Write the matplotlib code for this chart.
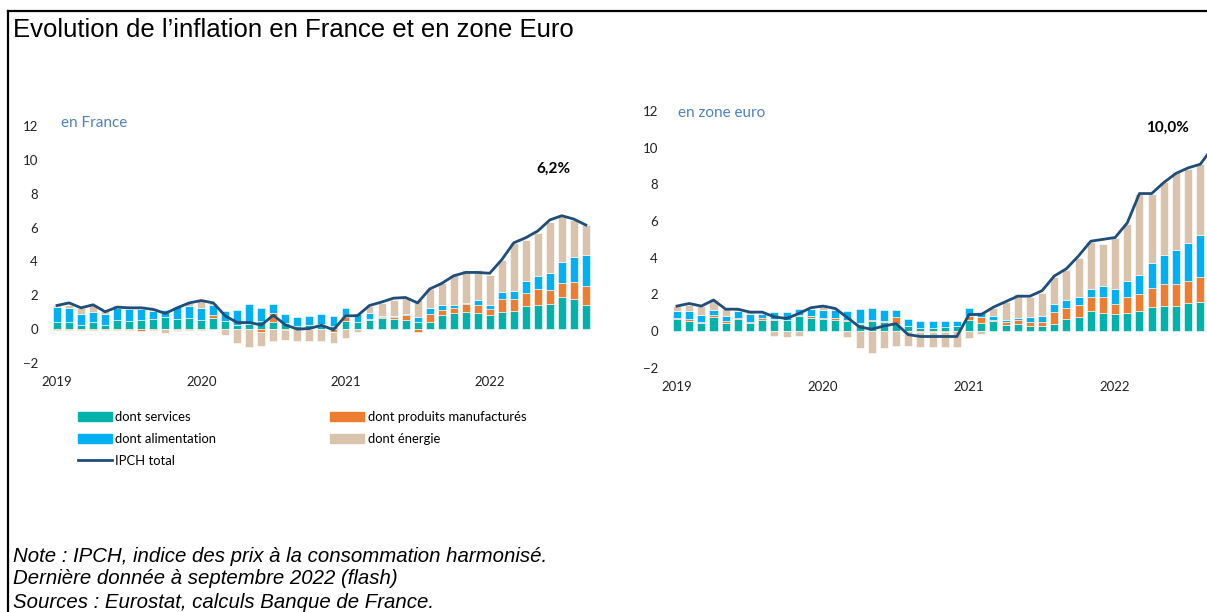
import matplotlib
matplotlib.use("Agg")
import matplotlib.pyplot as plt
from matplotlib.lines import Line2D
from matplotlib.patches import Patch
import numpy as np

# monthly data, Jan 2019 -> Sep 2022 (contributions, pts)
years = ["2019", "2020", "2021", "2022"]

fr_services = [0.45, 0.45, 0.25, 0.43, 0.25, 0.55, 0.5, 0.55, 0.6, 0.7, 0.62, 0.66,
               0.55, 0.65, 0.5, 0.25, 0.33, 0.5, 0.43, 0.35, 0.2, 0.23, 0.33, 0.2,
               0.5, 0.45, 0.55, 0.68, 0.62, 0.55, 0.43, 0.43, 0.85, 0.97, 1.0, 0.97,
               0.85, 1.0, 1.1, 1.36, 1.44, 1.5, 1.9, 1.79, 1.44]
fr_manuf = [-0.05, -0.05, -0.05, -0.05, -0.05, -0.05, -0.05, -0.12, -0.05, -0.02, -0.03, -0.05,
            -0.05, 0.2, 0.0, 0.0, 0.0, -0.15, 0.5, -0.05, 0.0, 0.0, 0.0, -0.15,
            0.2, 0.0, 0.05, 0.05, 0.1, 0.3, -0.15, 0.45, 0.3, 0.27, 0.5, 0.45,
            0.35, 0.78, 0.68, 0.78, 0.93, 0.8, 0.85, 0.97, 1.09]
fr_food = [0.85, 0.8, 0.65, 0.6, 0.62, 0.7, 0.7, 0.65, 0.45, 0.42, 0.68, 0.7,
           0.7, 0.55, 0.6, 0.9, 1.15, 0.75, 0.55, 0.52, 0.52, 0.55, 0.57, 0.58,
           0.55, 0.45, 0.35, 0.05, 0.05, 0.05, 0.3, 0.35, 0.27, 0.2, 0.05, 0.3,
           0.22, 0.4, 0.5, 0.72, 0.74, 1.0, 1.22, 1.48, 1.83]
fr_energy = [0.15, 0.2, 0.35, 0.4, 0.2, 0.15, 0.12, 0.15, 0.12, -0.2, -0.1, 0.2,
             0.45, 0.15, -0.33, -0.8, -1.05, -0.85, -0.7, -0.6, -0.68, -0.68, -0.7, -0.65,
             -0.5, -0.15, 0.4, 0.75, 0.95, 1.0, 1.0, 1.15, 1.3, 1.75, 1.95, 1.75,
             1.8, 1.9, 2.8, 2.4, 2.55, 3.0, 2.73, 2.2, 1.8]
fr_total = [1.4, 1.55, 1.26, 1.44, 1.03, 1.3, 1.26, 1.26, 1.17, 0.93, 1.26, 1.55,
            1.69, 1.55, 0.78, 0.39, 0.39, 0.25, 0.82, 0.25, 0.0, 0.04, 0.23, -0.04,
            0.78, 0.8, 1.4, 1.6, 1.83, 1.87, 1.55, 2.37, 2.7, 3.15, 3.35, 3.35,
            3.3, 4.1, 5.1, 5.4, 5.8, 6.45, 6.7, 6.5, 6.15]

ez_services = [0.64, 0.53, 0.46, 0.77, 0.44, 0.66, 0.46, 0.62, 0.62, 0.59, 0.8, 0.73,
               0.66, 0.62, 0.53, 0.4, 0.53, 0.5, 0.4, 0.26, 0.18, 0.17, 0.22, 0.28,
               0.6, 0.44, 0.53, 0.31, 0.4, 0.26, 0.26, 0.4, 0.66, 0.79, 1.1, 1.0,
               0.92, 1.0, 1.1, 1.32, 1.38, 1.38, 1.54, 1.6, 1.72]
ez_manuf = [0.09, 0.13, 0.03, 0.1, 0.11, 0.07, 0.04, 0.11, 0.03, 0.0, 0.05, 0.07,
            0.05, 0.07, 0.05, 0.05, 0.05, 0.07, 0.37, 0.0, -0.05, -0.05, -0.05, 0.0,
            0.2, 0.3, 0.05, 0.18, 0.22, 0.24, 0.24, 0.64, 0.62, 0.62, 0.73, 0.84,
            0.55, 0.84, 0.92, 1.0, 1.17, 1.17, 1.19, 1.34, 1.52]
ez_food = [0.37, 0.44, 0.4, 0.3, 0.26, 0.37, 0.4, 0.22, 0.37, 0.44, 0.37, 0.42,
           0.42, 0.44, 0.5, 0.75, 0.7, 0.57, 0.4, 0.37, 0.37, 0.37, 0.33, 0.28,
           0.45, 0.3, 0.25, 0.13, 0.1, 0.24, 0.3, 0.42, 0.4, 0.42, 0.44, 0.62,
           0.81, 0.9, 1.05, 1.38, 1.61, 1.85, 2.07, 2.28, 2.48]
ez_energy = [0.26, 0.3, 0.45, 0.5, 0.4, 0.1, 0.12, 0.05, -0.25, -0.35, -0.3, 0.05,
             0.25, 0.1, -0.35, -0.95, -1.2, -0.95, -0.8, -0.8, -0.8, -0.8, -0.85, -0.85,
             -0.4, -0.15, 0.45, 0.98, 1.3, 1.14, 1.3, 1.5, 1.65, 2.15, 2.6, 2.3,
             2.8, 3.08, 4.4, 3.76, 3.95, 4.3, 4.05, 3.9, 4.27]
ez_total = [1.36, 1.5, 1.36, 1.69, 1.19, 1.19, 1.03, 1.03, 0.77, 0.68, 0.95, 1.27,
            1.36, 1.23, 0.73, 0.22, 0.1, 0.27, 0.4, -0.2, -0.3, -0.3, -0.3, -0.3,
            0.9, 0.9, 1.3, 1.6, 1.9, 1.9, 2.2, 3.0, 3.4, 4.1, 4.9, 5.0,
            5.1, 5.9, 7.5, 7.5, 8.1, 8.6, 8.9, 9.1, 10.0]

labels = ["dont services", "dont produits manufacturés", "dont alimentation", "dont énergie"]
colors = ["#00B2A9", "#ED7D31", "#00B0F0", "#D9C3AD"]
line_color = "#1F4E79"
note_blue = "#4F81BD"

plt.rcParams["font.family"] = ["Lato", "DejaVu Sans"]


def draw_panel(ax, comps, total, name, last_label, last_xy):
    x = np.arange(len(total))
    pos = np.zeros(len(x))
    neg = np.zeros(len(x))
    for vals, c in zip(comps, colors):
        v = np.asarray(vals)
        bottom = np.where(v >= 0, pos, neg)
        ax.bar(x, v, bottom=bottom, width=0.66, color=c, edgecolor="white", linewidth=0.4, zorder=2)
        pos = pos + np.clip(v, 0, None)
        neg = neg + np.clip(v, None, 0)
    ax.plot(x, total, color=line_color, lw=2, zorder=3)
    ax.set_xlim(-1, 46)
    ax.set_ylim(-2.5, 12.5)
    ax.set_yticks(range(-2, 13, 2))
    ax.set_xticks([0, 12, 24, 36])
    ax.set_xticklabels(years)
    ax.tick_params(length=0, labelsize=9.5, colors="#222222")
    ax.tick_params(axis="y", pad=5)
    ax.tick_params(axis="x", pad=3)
    for s in ax.spines.values():
        s.set_visible(False)
    ax.patch.set_alpha(0)
    ax.text(name[1], name[2], name[0], color=note_blue, fontsize=11, va="center")
    ax.text(last_xy[0], last_xy[1], last_label, fontsize=11, fontweight="bold", ha="center", va="center")


fig = plt.figure(figsize=(12.07, 6.12), dpi=100)

ax1 = fig.add_axes([0.0373, 0.393, 0.468, 0.415])
draw_panel(ax1, [fr_services, fr_manuf, fr_food, fr_energy], fr_total,
           ("en France", 0.3, 12.2), "6,2%", (41.3, 9.5))

ax2 = fig.add_axes([0.5508, 0.3843, 0.4739, 0.4492])
draw_panel(ax2, [ez_services, ez_manuf, ez_food, ez_energy], ez_total,
           ("en zone euro", 0.1, 11.9), "10,0%", (40.3, 11.1))

handles = [Patch(color=colors[0]), Patch(color=colors[2]), Line2D([], [], color=line_color, lw=2),
           Patch(color=colors[1]), Patch(color=colors[3])]
names = [labels[0], labels[2], "IPCH total", labels[1], labels[3]]
fig.legend(handles, names, ncol=2, loc="upper left", bbox_to_anchor=(0.0645, 0.328),
           frameon=False, fontsize=9.4, handlelength=2.6, handletextpad=0.25,
           columnspacing=8.75, labelspacing=0.75, borderaxespad=0, borderpad=0)

fig.text(0.011, 1 - 30 / 612, "Evolution de l\u2019inflation en France et en zone Euro",
         fontfamily="Liberation Sans", fontsize=18.5, va="center")
notes = ["Note : IPCH, indice des prix à la consommation harmonisé.",
         "Dernière donnée à septembre 2022 (flash)",
         "Sources : Eurostat, calculs Banque de France."]
for k, t in enumerate(notes):
    fig.text(0.011, 1 - (556 + 23 * k) / 612, t, fontfamily="Liberation Sans",
             fontstyle="italic", fontsize=14.7, va="center")

# frame lines
fig.add_artist(Line2D([0.0066, 1.0], [0.982, 0.982], color="black", lw=1.6))
fig.add_artist(Line2D([0.0066, 0.0066], [0.0, 0.982], color="black", lw=1.6))

fig.savefig("out.png", dpi=100)
